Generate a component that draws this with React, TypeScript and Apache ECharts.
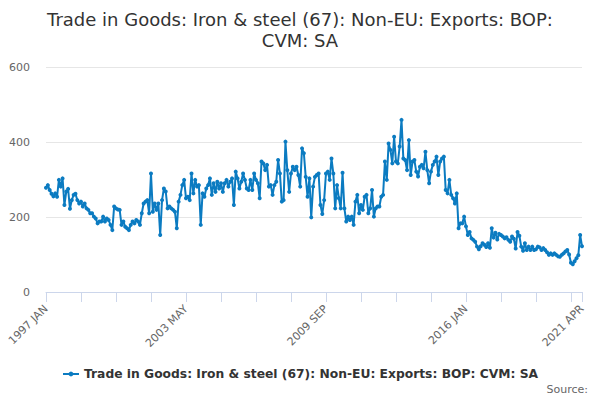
import React, { useEffect, useRef } from "react";
import * as echarts from "echarts";

const MONTHS = ["JAN", "FEB", "MAR", "APR", "MAY", "JUN", "JUL", "AUG", "SEP", "OCT", "NOV", "DEC"];

const values1997to2001: number[] = [
  278, 285, 272, 262, 255, 263, 254, 299, 281, 303, 232, 268,
  275, 222, 245, 259, 262, 245, 236, 241, 228, 236, 223, 219,
  210, 210, 201, 196, 183, 188, 188, 201, 188, 196, 192, 179,
  165, 228, 223, 220, 219, 179, 188, 174, 170, 165, 179, 188,
  183, 192, 188, 179, 210, 236, 241, 245, 210, 316, 214, 236,
];
const values2002to2006: number[] = [
  219, 236, 152, 245, 276, 268, 223, 228, 223, 219, 214, 170,
  241, 259, 285, 299, 250, 254, 245, 316, 263, 299, 281, 285,
  179, 263, 254, 276, 285, 303, 259, 290, 267, 294, 276, 290,
  267, 290, 299, 281, 294, 303, 232, 321, 303, 276, 294, 316,
  299, 276, 272, 299, 272, 316, 299, 290, 250, 348, 343, 325,
];
const values2007to2011: number[] = [
  339, 281, 285, 259, 285, 294, 352, 316, 241, 245, 401, 325,
  267, 316, 334, 325, 334, 312, 281, 383, 370, 307, 254, 303,
  199, 281, 307, 312, 316, 232, 208, 245, 316, 321, 299, 356,
  316, 223, 285, 250, 223, 318, 223, 188, 201, 192, 201, 179,
  241, 259, 210, 232, 219, 254, 259, 210, 223, 272, 201, 223,
];
const values2012to2016: number[] = [
  228, 228, 254, 259, 348, 299, 396, 379, 343, 414, 348, 343,
  388, 459, 356, 352, 325, 405, 312, 348, 352, 321, 308, 334,
  339, 330, 374, 325, 290, 321, 339, 348, 361, 312, 348, 356,
  361, 272, 263, 299, 259, 250, 236, 263, 170, 183, 183, 201,
  175, 152, 160, 143, 139, 134, 121, 114, 122, 130, 126, 120,
];
const values2017to2021: number[] = [
  130, 118, 170, 145, 158, 140, 155, 152, 148, 143, 146, 139,
  134, 148, 142, 116, 160, 150, 121, 110, 130, 112, 121, 112,
  121, 112, 114, 121, 119, 112, 117, 112, 106, 99, 103, 99,
  103, 99, 95, 94, 99, 103, 108, 112, 100, 78, 74, 82,
  90, 98, 152, 122,
];

const seriesValues: number[] = [
  ...values1997to2001,
  ...values2002to2006,
  ...values2007to2011,
  ...values2012to2016,
  ...values2017to2021,
];

const categories: string[] = seriesValues.map((_, i) => {
  const year = 1997 + Math.floor(i / 12);
  return `${year} ${MONTHS[i % 12]}`;
});

const yTicks = [0, 200, 400, 600];
const titleText = "Trade in Goods: Iron & steel (67): Non-EU: Exports: BOP:\nCVM: SA";
const seriesName = "Trade in Goods: Iron & steel (67): Non-EU: Exports: BOP: CVM: SA";
const FONT = "DejaVu Sans";
const LINE_COLOR = "#0b7bc1";

export default function App() {
  const ref = useRef<HTMLDivElement>(null);
  useEffect(() => {
    if (!ref.current) return;
    const chart = echarts.init(ref.current, undefined, { renderer: "svg" });
    const last = categories.length - 1;
    chart.setOption({
      animation: false,
      backgroundColor: "#ffffff",
      textStyle: { fontFamily: FONT },
      title: {
        text: titleText,
        left: "center",
        top: 4,
        textStyle: { fontFamily: FONT, fontSize: 18, fontWeight: "normal", color: "#333333", lineHeight: 21 },
      },
      legend: {
        bottom: 15,
        left: "center",
        itemWidth: 16,
        itemHeight: 6,
        itemGap: 6,
        textStyle: { fontFamily: FONT, fontSize: 12.3, fontWeight: "bold", color: "#333333" },
        data: [seriesName],
      },
      grid: { left: 46, right: 18, top: 67, bottom: 108, containLabel: false },
      xAxis: {
        type: "category",
        data: categories,
        boundaryGap: false,
        axisLine: { lineStyle: { color: "#ccd6eb" } },
        axisTick: {
          show: true,
          length: 10,
          lineStyle: { color: "#ccd6eb" },
          interval: (i: number) => i % 19 === 0 || i === last,
        },
        axisLabel: {
          interval: (i: number) => i % 76 === 0 || i === last,
          rotate: 45,
          fontFamily: FONT,
          fontSize: 11,
          color: "#666666",
          margin: 15,
        },
        splitLine: { show: false },
      },
      yAxis: {
        type: "value",
        min: yTicks[0],
        max: yTicks[yTicks.length - 1],
        interval: 200,
        axisLine: { show: false },
        axisTick: { show: false },
        axisLabel: { fontFamily: FONT, fontSize: 11, color: "#666666", margin: 16 },
        splitLine: { lineStyle: { color: "#e6e6e6" } },
      },
      graphic: [
        {
          type: "text",
          right: 12,
          bottom: 5,
          style: { text: "Source:", fontFamily: FONT, fontSize: 11, fill: "#666666" },
        },
      ],
      series: [
        {
          name: seriesName,
          type: "line",
          data: seriesValues,
          color: LINE_COLOR,
          symbol: "circle",
          symbolSize: 4,
          showSymbol: true,
          showAllSymbol: true,
          lineStyle: { width: 2, color: LINE_COLOR },
          itemStyle: { color: LINE_COLOR },
        },
      ],
    });
    return () => chart.dispose();
  }, []);
  return (
    <div
      ref={ref}
      style={{ position: "fixed", left: 0, top: 0, width: 600, height: 400 }}
    />
  );
}
